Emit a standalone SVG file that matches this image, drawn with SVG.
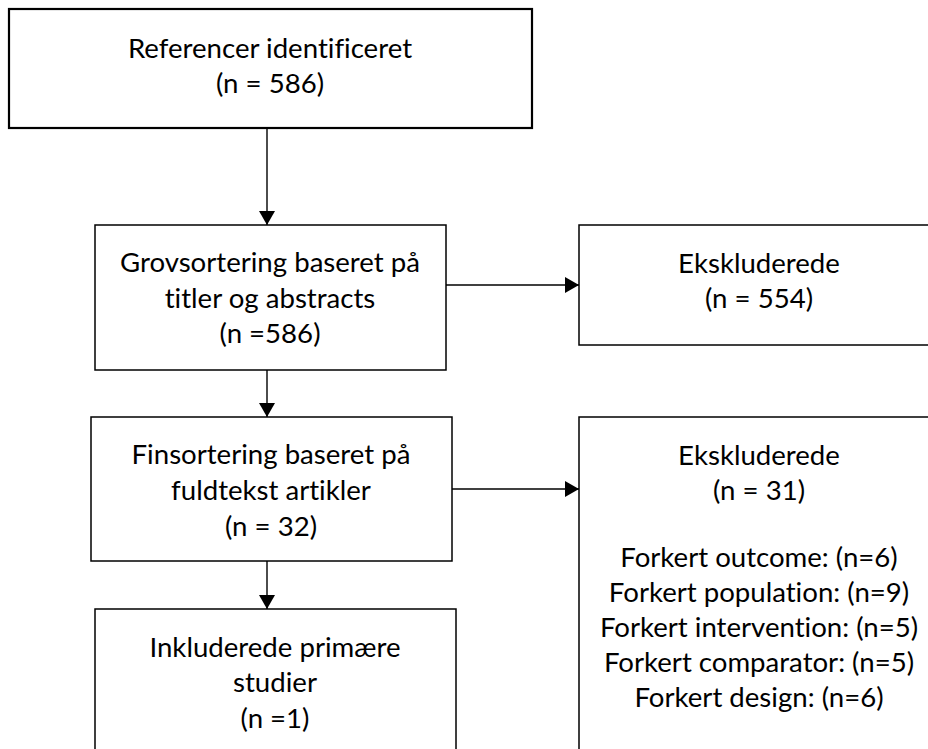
<svg xmlns="http://www.w3.org/2000/svg" width="928" height="749" viewBox="0 0 928 749">
<style>
.box{fill:#fff;stroke:#000;stroke-width:1.5}
.t{font-family:Lato,"Liberation Sans",sans-serif;font-size:27.6px;fill:#000;text-anchor:middle;font-variant-ligatures:none}
.c{stroke:#000;stroke-width:1.4;fill:none}
</style>
<defs>
<marker id="ah" viewBox="0 0 14 16" refX="14" refY="8" markerWidth="14" markerHeight="16" markerUnits="userSpaceOnUse" orient="auto">
<path d="M0,0 L14,8 L0,16 Z" fill="#000"/>
</marker>
</defs>
<rect width="928" height="749" fill="#fff"/>
<g id="n1">
<rect class="box" x="9" y="9" width="523" height="119" style="stroke-width:2.2"/>
<text class="t" x="270" y="58">Referencer identificeret</text>
<text class="t" x="270" y="93">(n = 586)</text>
</g>
<g id="n2">
<rect class="box" x="95" y="225" width="351" height="145"/>
<text class="t" x="270" y="272">Grovsortering baseret på</text>
<text class="t" x="270" y="308">titler og abstracts</text>
<text class="t" x="270" y="343">(n =586)</text>
</g>
<g id="n3">
<rect class="box" x="579" y="225" width="370" height="120"/>
<text class="t" x="759" y="273">Ekskluderede</text>
<text class="t" x="759" y="308">(n = 554)</text>
</g>
<g id="n4">
<rect class="box" x="91" y="417" width="361" height="144"/>
<text class="t" x="271" y="464">Finsortering baseret på</text>
<text class="t" x="271" y="500">fuldtekst artikler</text>
<text class="t" x="271" y="536">(n = 32)</text>
</g>
<g id="n5">
<rect class="box" x="95" y="609" width="361" height="160"/>
<text class="t" x="275" y="657">Inkluderede primære</text>
<text class="t" x="275" y="692">studier</text>
<text class="t" x="275" y="728">(n =1)</text>
</g>
<g id="n6">
<rect class="box" x="579" y="417" width="370" height="350"/>
<text class="t" x="759" y="465">Ekskluderede</text>
<text class="t" x="759" y="500">(n = 31)</text>
<text class="t" x="759" y="567">Forkert outcome: (n=6)</text>
<text class="t" x="759" y="602">Forkert population: (n=9)</text>
<text class="t" x="759" y="637">Forkert intervention: (n=5)</text>
<text class="t" x="759" y="672">Forkert comparator: (n=5)</text>
<text class="t" x="759" y="707">Forkert design: (n=6)</text>
</g>
<g id="connectors">
<line class="c" x1="267" y1="128" x2="267" y2="225" marker-end="url(#ah)"/>
<line class="c" x1="446" y1="285" x2="579" y2="285" marker-end="url(#ah)"/>
<line class="c" x1="267" y1="370" x2="267" y2="417" marker-end="url(#ah)"/>
<line class="c" x1="452" y1="489" x2="579" y2="489" marker-end="url(#ah)"/>
<line class="c" x1="267" y1="561" x2="267" y2="609" marker-end="url(#ah)"/>
</g>
</svg>
